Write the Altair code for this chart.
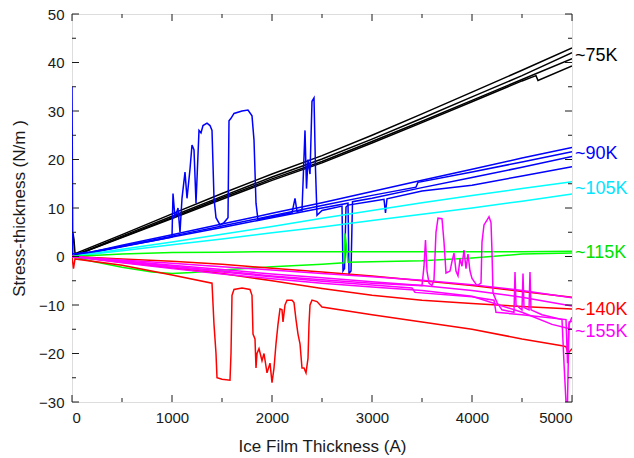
import altair as alt
import pandas as pd

FONT = "Liberation Sans"

grid_x = [0, 500, 1000, 1500, 2000, 2500, 3000, 3500, 4000, 4500, 5000]

# ~75K (black)
k75_1_x = [0, 10, 20, 30, 500, 1000, 1500, 2000, 2500, 3000, 3500, 4000, 4500, 5000]
k75_1_y = [0, 4.8, 3.5, 0.6, 4.5, 8.8, 13.0, 17.0, 20.8, 25.0, 29.4, 33.9, 38.4, 43.0]
k75_2_y = [0, 4.2, 8.3, 12.4, 16.4, 20.1, 24.2, 28.5, 32.9, 37.3, 42.0]
k75_3_x = [0, 500, 1000, 1500, 2000, 2500, 3000, 3500, 4000, 4500, 4640, 4660, 5000]
k75_3_y = [0, 3.9, 7.8, 11.8, 15.7, 19.3, 23.4, 27.6, 31.9, 36.2, 37.3, 36.3, 39.3]
k75_4_y = [0, 4.0, 8.0, 12.1, 16.0, 19.6, 23.7, 27.9, 32.2, 36.5, 40.8]

# ~90K (blue)
k90_1_y = [0, 2.3, 4.5, 6.7, 8.9, 11.1, 13.4, 15.7, 18.0, 20.3, 22.5]
k90_2_x = [0, 500, 1000, 1500, 2000, 2500, 3000, 3440, 3460, 4000, 4500, 5000]
k90_2_y = [0, 2.1, 4.2, 6.3, 8.4, 10.5, 12.6, 14.3, 15.3, 17.4, 19.5, 21.6]
k90_3_x = [0, 500, 1000, 1500, 2000, 2500, 2760, 2770, 2790, 2805, 3000, 3500, 4000, 4500, 5000]
k90_3_y = [0, 2.0, 4.0, 6.0, 8.0, 10.0, 11.0, -3.5, -3.0, 11.3, 12.0, 14.2, 16.3, 18.4, 20.6]
k90_4_x = [0, 8, 200, 500, 800, 1000, 1010, 1030, 1060, 1080, 1100, 1130, 1150, 1180, 1200,
           1220, 1240, 1270, 1290, 1310, 1350, 1380, 1400, 1420, 1440, 1480, 1520, 1560, 1570,
           1590, 1620, 1700, 1760, 1800, 1820, 1840, 1860, 1900, 2000, 2200, 2230, 2250, 2300,
           2330, 2345, 2360, 2380, 2400, 2420, 2435, 2450, 2500, 2700, 2710, 2725, 2740, 2760,
           3000, 3120, 3135, 3150, 3500, 4000, 4500, 5000]
k90_4_y = [35, 0.5, 1.0, 2.1, 3.2, 4.0, 13.0, 8.0, 10.0, 5.0, 12.0, 17.4, 12.0, 18.0, 23.0,
           22.0, 11.0, 26.0, 25.5, 27.0, 27.5, 27.0, 26.0, 12.0, 8.0, 6.5, 7.0, 8.0, 28.0,
           28.5, 29.5, 30.0, 30.2, 29.0, 24.0, 11.0, 7.5, 7.8, 8.2, 9.0, 12.0, 9.3, 9.5,
           26.0, 14.0, 20.0, 17.0, 32.0, 32.7, 18.0, 8.5, 9.5, 10.4, -3.0, -2.5, 10.2, 10.6,
           11.4, 11.8, 9.0, 11.9, 13.5, 14.7, 16.6, 18.5]

# ~105K (cyan)
k105_1_y = [0, 1.5, 3.0, 4.6, 6.2, 7.9, 9.5, 11.1, 12.6, 14.0, 15.4]
k105_2_y = [0, 1.2, 2.4, 3.6, 4.9, 6.1, 7.4, 8.7, 10.0, 11.4, 12.9]

# ~115K (green)
k115_1_y = [0, 0.5, 0.8, 0.9, 1.0, 1.0, 1.0, 1.0, 1.0, 1.0, 1.1]
k115_2_x = [0, 200, 500, 800, 1000, 1200, 1500, 2000, 2500, 2720, 2730, 2740, 2760, 3000,
            3500, 4000, 4500, 5000]
k115_2_y = [0, -1.0, -2.2, -3.2, -3.5, -3.3, -2.8, -2.1, -1.6, -1.3, 4.8, 3.0, -1.2, -1.1,
            -0.9, -0.3, 0.5, 0.7]

# ~140K (red)
k140_1_y = [0, -0.5, -1.0, -1.6, -2.4, -3.2, -4.0, -5.0, -6.0, -7.2, -8.4]
k140_2_y = [0, -1.2, -2.3, -3.5, -5.0, -6.6, -8.0, -9.0, -9.7, -10.3, -10.8]
k140_3_x = [0, 15, 30, 500, 1000, 1400, 1420, 1440, 1450, 1500, 1580, 1590, 1600, 1620, 1700,
            1780, 1800, 1810, 1830, 1840, 1850, 1870, 1900, 1920, 1950, 1980, 2000, 2020, 2040,
            2060, 2080, 2100, 2110, 2130, 2150, 2200, 2220, 2240, 2260, 2280, 2300, 2320, 2340,
            2360, 2370, 2380, 2400, 2450, 2500, 3000, 3500, 4000, 4500, 4900, 4940, 4960, 5000]
k140_3_y = [0, -2.5, -0.5, -1.8, -3.8, -5.5, -14.0, -20.0, -25.0, -25.3, -25.5, -20.0, -8.0,
            -6.8, -6.5, -6.8, -8.0, -16.0, -17.0, -23.0, -20.0, -19.0, -21.5, -20.0, -24.0,
            -22.0, -26.0, -23.0, -18.0, -14.0, -10.8, -11.0, -13.5, -10.0, -9.0, -9.0, -9.5,
            -13.0, -16.0, -18.0, -23.0, -23.0, -24.0, -21.0, -14.0, -10.0, -9.0, -9.3, -10.4,
            -12.0, -13.5, -15.0, -17.0, -18.4, -18.6, -20.0, -19.0]

# ~155K (magenta)
k155_1_y = [0, -0.7, -1.4, -2.1, -2.8, -3.5, -4.2, -4.9, -5.8, -7.0, -8.5]
k155_2_y = [0, -0.9, -1.8, -2.7, -3.6, -4.4, -5.2, -6.0, -7.0, -8.4, -10.2]
k155_3_x = [0, 500, 1000, 1500, 2000, 2500, 3000, 3400, 3430, 4000, 4220, 4240, 4500, 4940,
            4955, 4970, 5000]
k155_3_y = [0, -1.1, -2.2, -3.2, -4.2, -5.1, -5.9, -6.5, -7.4, -8.3, -9.0, -11.5, -12.0,
            -13.0, -22.0, -13.5, -13.3]
k155_4_x = [0, 500, 1000, 1500, 2000, 2500, 3000, 3500, 4000, 4500, 4800, 5000]
k155_4_y = [0, -1.3, -2.5, -3.6, -4.6, -5.5, -6.3, -7.0, -8.2, -11.5, -14.0, -15.0]
k155_5_x = [0, 500, 1000, 1500, 2000, 2500, 3000, 3500, 3520, 3535, 3550, 3570, 3600, 3620,
            3640, 3660, 3700, 3720, 3740, 3780, 3800, 3820, 3840, 3860, 3880, 3900, 3920, 3940,
            3960, 3980, 4000, 4050, 4090, 4100, 4120, 4150, 4170, 4190, 4200, 4210, 4250, 4300,
            4420, 4430, 4440, 4500, 4510, 4520, 4570, 4580, 4590, 4700, 4900, 4920, 4940, 4955,
            4970, 5000]
k155_5_y = [0, -1.0, -2.0, -3.0, -4.0, -4.8, -5.5, -6.0, -2.0, 3.4, -3.0, -5.5, -6.0, -4.8,
            5.0, 7.9, 7.8, 3.0, -3.4, -3.0, -1.0, 0.7, -3.0, -4.0, -0.5, -2.0, 1.3, -2.5,
            0.5, -3.0, -4.5, -6.0, -5.5, 3.0, 6.5, 7.5, 8.2, 7.0, 1.0, -7.5, -9.5, -11.0,
            -11.5, -3.2, -10.0, -11.0, -3.5, -10.5, -11.0, -3.2, -11.0, -12.0, -13.0, -22.0,
            -30.0, -30.0, -14.0, -12.5]

# right-hand labels
label_text = ["~75K", "~90K", "~105K", "~115K", "~140K", "~155K"]
label_y = [41.4, 21.1, 13.9, 0.7, -11.0, -15.6]
label_color = ["#000000", "#0000ff", "#00e5ff", "#00e000", "#ff0000", "#ff00ff"]

color_names = ["k75", "k90", "k105", "k115", "k140", "k155"]
color_values = ["#000000", "#0000ff", "#00ffff", "#00ff00", "#ff0000", "#ff00ff"]

series = [
    ("k75", "a", k75_1_x, k75_1_y), ("k75", "b", grid_x, k75_2_y),
    ("k75", "c", k75_3_x, k75_3_y), ("k75", "d", grid_x, k75_4_y),
    ("k90", "a", grid_x, k90_1_y), ("k90", "b", k90_2_x, k90_2_y),
    ("k90", "c", k90_3_x, k90_3_y), ("k90", "d", k90_4_x, k90_4_y),
    ("k105", "a", grid_x, k105_1_y), ("k105", "b", grid_x, k105_2_y),
    ("k115", "a", grid_x, k115_1_y), ("k115", "b", k115_2_x, k115_2_y),
    ("k140", "a", grid_x, k140_1_y), ("k140", "b", grid_x, k140_2_y),
    ("k140", "c", k140_3_x, k140_3_y),
    ("k155", "a", grid_x, k155_1_y), ("k155", "b", grid_x, k155_2_y),
    ("k155", "c", k155_3_x, k155_3_y), ("k155", "d", k155_4_x, k155_4_y),
    ("k155", "e", k155_5_x, k155_5_y),
]

rows = []
for si, (grp, sub, xs, ys) in enumerate(series):
    for i, (xv, yv) in enumerate(zip(xs, ys)):
        rows.append({"x": xv, "y": yv, "grp": grp, "sid": f"{si:02d}_{grp}_{sub}", "i": i})
df = pd.DataFrame(rows)

xscale = alt.Scale(domain=[0, 5000], nice=False, zero=False)
yscale = alt.Scale(domain=[-30, 50], nice=False, zero=False)

xaxis = alt.Axis(title="Ice Film Thickness (A)", values=[0, 1000, 2000, 3000, 4000, 5000],
                 format="d", ticks=False, domain=False, grid=False, labelFont=FONT,
                 labelFontSize=15, labelColor="#1a1a1a", labelPadding=8, titleFont=FONT,
                 titleFontSize=17, titleFontWeight="normal", titleColor="#1a1a1a", titlePadding=13)
yaxis = alt.Axis(title="Stress-thickness (N/m )", values=[-30, -20, -10, 0, 10, 20, 30, 40, 50],
                 format="d", ticks=False, domain=False, grid=False, labelFont=FONT,
                 labelFontSize=15, labelColor="#1a1a1a", labelPadding=8, titleFont=FONT,
                 titleFontSize=17, titleFontWeight="normal", titleColor="#1a1a1a", titlePadding=10)

lines = alt.Chart(df).mark_line(strokeWidth=1.5, clip=True).encode(
    x=alt.X("x:Q", scale=xscale, axis=xaxis),
    y=alt.Y("y:Q", scale=yscale, axis=yaxis),
    color=alt.Color("grp:N", scale=alt.Scale(domain=color_names, range=color_values), legend=None),
    detail="sid:N",
    order="i:Q",
)

# inward ticks
y_major = [-30, -20, -10, 0, 10, 20, 30, 40, 50]
y_minor = [-25, -15, -5, 5, 15, 25, 35, 45]
x_major = [0, 1000, 2000, 3000, 4000, 5000]
x_minor = [500, 1500, 2500, 3500, 4500]

def yticks(vals, length):
    d = pd.DataFrame({"y": vals})
    left = alt.Chart(d).mark_rule(color="#1a1a1a", strokeWidth=1).encode(
        y=alt.Y("y:Q", scale=yscale, axis=yaxis), x=alt.value(0), x2=alt.value(length))
    right = alt.Chart(d).mark_rule(color="#1a1a1a", strokeWidth=1).encode(
        y=alt.Y("y:Q", scale=yscale, axis=yaxis), x=alt.value(500), x2=alt.value(500 - length))
    return [left, right]

def xticks(vals, length):
    d = pd.DataFrame({"x": vals})
    bottom = alt.Chart(d).mark_rule(color="#1a1a1a", strokeWidth=1).encode(
        x=alt.X("x:Q", scale=xscale, axis=xaxis), y=alt.value(388), y2=alt.value(388 - length))
    top = alt.Chart(d).mark_rule(color="#1a1a1a", strokeWidth=1).encode(
        x=alt.X("x:Q", scale=xscale, axis=xaxis), y=alt.value(0), y2=alt.value(length))
    return [bottom, top]

tick_layers = yticks(y_major, 7) + yticks(y_minor, 4) + xticks(x_major, 7) + xticks(x_minor, 4)

ldf = pd.DataFrame({"t": label_text, "y": label_y, "c": label_color, "x": [5000] * 6})
labels = alt.Chart(ldf).mark_text(align="left", baseline="middle", dx=3, font=FONT, fontSize=18).encode(
    x=alt.X("x:Q", scale=xscale, axis=xaxis),
    y=alt.Y("y:Q", scale=yscale, axis=yaxis),
    text="t:N",
    color=alt.Color("c:N", scale=None),
)

chart = alt.layer(lines, *tick_layers, labels).properties(
    width=500, height=388,
    autosize=alt.AutoSizeParams(type="none"),
    padding={"left": 72, "top": 14, "right": 62, "bottom": 56},
).configure_view(stroke="#1a1a1a", strokeWidth=1).configure(background="white")

chart.save("out.html", embed_options={"renderer": "svg", "actions": False})
